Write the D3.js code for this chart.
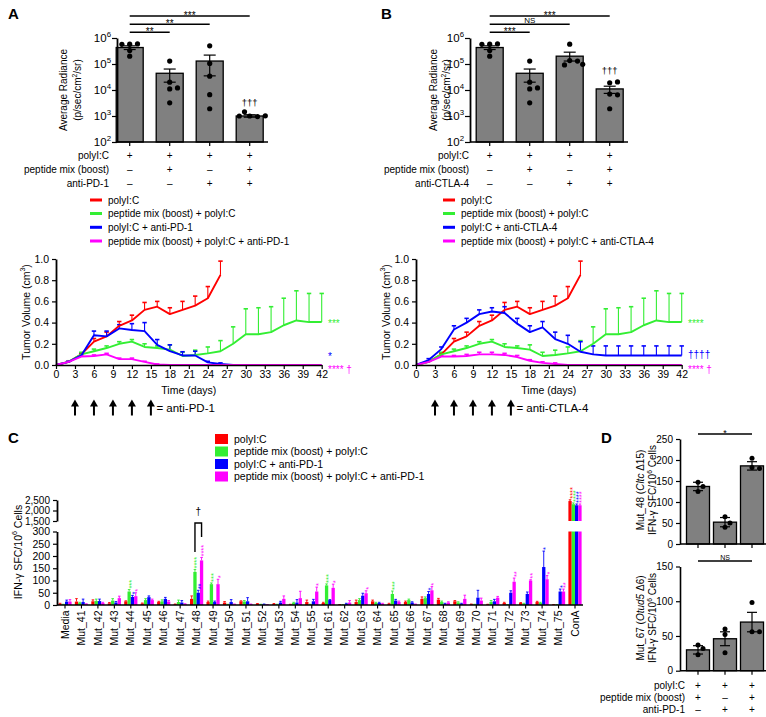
<!DOCTYPE html>
<html><head><meta charset="utf-8">
<script src="https://cdn.jsdelivr.net/npm/d3@7"></script>
<style>
html,body{margin:0;padding:0;background:#fff;}
svg text{font-family:"Liberation Sans",Arial,Helvetica,sans-serif;fill:#000;}
</style></head><body>
<svg id="fig" width="766" height="717" viewBox="0 0 766 717"></svg>
<script>
// ================= DATA =================
const COLORS = ["#ff0000","#33ee33","#0000ff","#ff00ff"];

// Panels A/B – bioluminescence (Average Radiance)
const radTicks = [1e2,1e3,1e4,1e5,1e6];
const radMeanA = [4.3e5, 4.4e4, 1.3e5, 1.0e3];
const radLowA  = [3.6e5, 2.0e4, 3.5e4, 0.9e3];
const radHighA = [5.0e5, 6.4e4, 2.2e5, 1.12e3];
const radPtsA  = [[5.8e5,5.9e5,5.7e5,2.0e5,3.3e5],[1.3e5,2.0e4,1.1e4,1.2e4,3.2e3],[5.0e5,1.05e5,3.4e4,6.6e3,1.9e3],[1.0e3,0.95e3,1.45e3,1.0e3,1.02e3]];
const radMeanB = [4.3e5, 4.4e4, 2.0e5, 1.1e4];
const radLowB  = [3.6e5, 2.0e4, 1.3e5, 7.4e3];
const radHighB = [5.0e5, 6.4e4, 2.85e5, 1.4e4];
const radPtsB  = [[5.8e5,5.9e5,5.7e5,2.0e5,3.3e5],[1.3e5,2.0e4,1.1e4,1.2e4,3.2e3],[5.8e5,1.35e5,1.3e5,9.2e4,9.7e4],[1.9e4,2.05e4,7.0e3,6.5e3,1.9e3]];
const sigLabelsA = ["**","**","***"];
const sigLabelsB = ["***","NS","***"];
const rowLabelsA = ["polyI:C","peptide mix (boost)","anti-PD-1"];
const rowLabelsB = ["polyI:C","peptide mix (boost)","anti-CTLA-4"];
const rowSignsAB = [["+","+","+","+"],["–","+","–","+"],["–","–","+","+"]];
const legendA = ["polyI:C","peptide mix (boost) + polyI:C","polyI:C + anti-PD-1","peptide mix (boost) + polyI:C + anti-PD-1"];
const legendB = ["polyI:C","peptide mix (boost) + polyI:C","polyI:C + anti-CTLA-4","peptide mix (boost) + polyI:C + anti-CTLA-4"];

// Tumor growth curves
const days = [0,2,4,6,8,10,12,14,16,18,20,22,24,26,28,30,32,34,36,38,40,42];
const volTicksY = [0,0.2,0.4,0.6,0.8,1.0];
const dayTicks = [0,3,6,9,12,15,18,21,24,27,30,33,36,39,42];
const treatDays = [3,6,9,12,15];
const volRedA    = [0,0.03,0.1,0.22,0.27,0.37,0.42,0.52,0.55,0.48,0.52,0.56,0.63,0.85];
const volRedErrA = [0,0.035,0.11,0.25,0.31,0.41,0.47,0.59,0.6,0.54,0.6,0.65,0.74,0.98];
const volGreenA    = [0,0.03,0.1,0.13,0.16,0.2,0.22,0.17,0.16,0.145,0.085,0.094,0.11,0.13,0.2,0.29,0.29,0.31,0.375,0.42,0.405,0.405];
const volGreenErrA = [0,0.04,0.12,0.15,0.18,0.22,0.24,0.2,0.18,0.19,0.12,0.14,0.17,0.23,0.36,0.53,0.54,0.55,0.63,0.7,0.675,0.675];
const volBlueA    = [0,0.03,0.09,0.28,0.27,0.345,0.33,0.32,0.19,0.13,0.09,0.09,0.025,0.01,0];
const volBlueErrA = [0,0.035,0.1,0.32,0.32,0.38,0.39,0.4,0.24,0.19,0.125,0.13,0.035,0.02,0];
const volMagA    = [0,0.03,0.08,0.085,0.1,0.055,0.055,0.03,0.005,0,0,0,0,0,0,0,0,0,0,0,0,0];
const volMagErrA = [0,0.035,0.095,0.095,0.11,0.065,0.065,0.035,0.01,0,0,0,0,0,0,0,0,0,0,0,0,0];
const volRedB    = [0,0.03,0.1,0.22,0.27,0.37,0.42,0.52,0.55,0.48,0.52,0.56,0.63,0.85];
const volRedErrB = [0,0.035,0.11,0.25,0.31,0.41,0.47,0.59,0.6,0.54,0.6,0.65,0.74,0.98];
const volGreenB    = [0,0.03,0.1,0.13,0.16,0.2,0.22,0.17,0.16,0.145,0.085,0.094,0.11,0.13,0.2,0.29,0.29,0.31,0.375,0.42,0.405,0.405];
const volGreenErrB = [0,0.04,0.12,0.15,0.18,0.22,0.24,0.2,0.18,0.19,0.12,0.14,0.17,0.23,0.36,0.53,0.54,0.55,0.63,0.7,0.675,0.675];
const volBlueB    = [0,0.047,0.15,0.335,0.4,0.48,0.505,0.49,0.39,0.31,0.355,0.245,0.2,0.125,0.1,0.09,0.09,0.09,0.09,0.09,0.09,0.09];
const volBlueErrB = [0,0.06,0.17,0.37,0.44,0.52,0.54,0.55,0.44,0.37,0.41,0.31,0.28,0.22,0.18,0.18,0.18,0.18,0.18,0.18,0.18,0.18];
const volMagB    = [0,0.03,0.08,0.08,0.085,0.1,0.1,0.095,0.075,0.04,0.02,0.01,0,0,0,0,0,0,0,0,0,0];
const volMagErrB = [0,0.035,0.09,0.09,0.1,0.12,0.12,0.11,0.09,0.05,0.03,0.02,0,0,0,0,0,0,0,0,0,0];

// Panel C – ELISpot
const cCats = ["Media","Mut_41","Mut_42","Mut_43","Mut_44","Mut_45","Mut_46","Mut_47","Mut_48","Mut_49","Mut_50","Mut_51","Mut_52","Mut_53","Mut_54","Mut_55","Mut_61","Mut_62","Mut_63","Mut_64","Mut_65","Mut_66","Mut_67","Mut_68","Mut_69","Mut_70","Mut_71","Mut_72","Mut_73","Mut_74","Mut_75","ConA"];
const cRed     = [5,14,15,7,15,6,12,3,25,12,10,15,5,4,2,12,8,1,12,15,5,12,25,22,15,3,2,8,8,12,1,2450];
const cGreen   = [2,8,16,18,55,20,15,12,135,85,2,14,2,2,8,2,80,1,20,8,45,20,28,12,10,2,12,1,5,8,1,2300];
const cBlue    = [14,12,16,10,33,32,25,10,50,12,12,15,3,10,10,15,20,5,38,8,18,10,45,5,5,30,15,50,45,155,55,2250];
const cMagenta = [14,3,8,28,36,20,14,3,182,85,3,3,1,25,28,55,70,10,48,5,12,3,60,10,25,18,30,95,100,105,55,2250];
const cRedErr   = [2,12,6,3,2,2,3,1,12,4,4,2,1,2,1,8,3,1,8,5,2,4,8,5,3,1,1,3,2,3,1,60];
const cGreenErr = [1,3,8,8,8,6,6,8,10,5,1,4,1,1,3,1,6,1,6,3,12,4,5,4,3,1,6,1,2,3,1,60];
const cBlueErr  = [6,12,8,4,6,5,6,8,10,4,10,15,1,5,12,8,2,2,10,3,5,3,10,2,2,30,8,8,8,65,10,60];
const cMagErr   = [8,2,3,8,14,4,4,2,12,20,1,1,1,12,28,18,15,8,10,2,4,1,15,3,15,10,5,15,3,15,10,60];
const cStars = [["Mut_44",1,3],["Mut_44",2,1],["Mut_44",3,1],["Mut_48",1,4],["Mut_48",2,2],["Mut_48",3,4],
  ["Mut_49",1,3],["Mut_49",3,1],["Mut_55",3,1],["Mut_61",1,3],["Mut_61",3,1],["Mut_63",3,1],["Mut_65",1,3],
  ["Mut_67",2,1],["Mut_67",3,1],["Mut_72",3,2],["Mut_73",3,2],["Mut_74",2,1],["Mut_74",3,1],["Mut_75",2,1],["Mut_75",3,2],
  ["ConA",0,4],["ConA",1,4],["ConA",2,4],["ConA",3,4]];
const cTicksLow = [0,50,100,150,200,250,300];
const cTicksHigh = [1500,2000,2500];
const legendC = ["polyI:C","peptide mix (boost) + polyI:C","polyI:C + anti-PD-1","peptide mix (boost) + polyI:C + anti-PD-1"];

// Panel D
const dRowLabels = ["polyI:C","peptide mix (boost)","anti-PD-1"];
const dRowSigns = [["+","+","+"],["+","–","+"],["–","+","+"]];
const d48Mean = [137,52,186], d48Err = [10,11,10], d48Pts = [[147,137,125],[65,40,50],[204,182,180]];
const d67Mean = [30,46,70],  d67Err = [6,10,14],  d67Pts = [[37,32,23],[60,26,52],[98,56,56]];
const d48Ticks = [0,50,100,150,200,250];
const d67Ticks = [0,50,100,150];

// ================= DRAWING =================
const svg = d3.select("#fig");

function rich(sel, parts, fs){
  let shift = 0;
  parts.forEach(p => {
    const s = typeof p === "string" ? p : p[0];
    const kind = typeof p === "string" ? "n" : p[1];
    const t = sel.append("tspan").text(s);
    let target = 0;
    if (kind === "sup"){ t.attr("font-size", fs*0.68); target = -fs*0.4; }
    if (kind === "it") t.attr("font-style","italic");
    if (target - shift !== 0) t.attr("dy", target - shift);
    shift = target;
  });
}
function txt(g, x, y, s, o={}){
  const fs = o.fs || 10;
  const t = g.append("text").attr("x",x).attr("y",y).attr("font-size",fs)
    .attr("text-anchor",o.anchor||"start");
  if (o.fill) t.attr("fill",o.fill).style("fill",o.fill);
  if (o.weight) t.attr("font-weight",o.weight);
  if (o.dy) t.attr("dy",o.dy);
  if (o.rot) t.attr("transform",`rotate(${o.rot},${x},${y})`);
  if (Array.isArray(s)) rich(t, s, fs); else t.text(s);
  return t;
}
function line(g,x1,y1,x2,y2,col="#000",w=1){
  return g.append("line").attr("x1",x1).attr("y1",y1).attr("x2",x2).attr("y2",y2).attr("stroke",col).attr("stroke-width",w);
}
function styleAxis(a, fs){
  a.select(".domain").attr("stroke","#000").attr("stroke-width",1.4);
  a.selectAll(".tick line").attr("stroke","#000").attr("stroke-width",1.2);
  a.selectAll(".tick text").attr("font-size",fs).style("fill","#000");
}
function dodge(ys, r){
  const placed = [];
  return ys.map(yy => {
    let off = 0;
    for (let k=0;k<40;k++){
      const c = k===0 ? 0 : (k%2 ? 1 : -1)*Math.ceil(k/2)*r;
      if (placed.every(p => Math.hypot(p[0]-c, p[1]-yy) >= 2*r+0.4)){ off = c; break; }
    }
    placed.push([off,yy]);
    return off;
  });
}

// ---------- A / B radiance bars ----------
function radiance(o){
  const g = svg.append("g");
  const y = d3.scaleLog().domain([1e2,1e6]).range([142,38]);
  const x = d3.scalePoint().domain(d3.range(o.mean.length)).range([o.c0, o.c0+120]);
  const bw = 27;
  g.selectAll("rect.bar").data(o.mean).join("rect").attr("class","bar")
    .attr("x",(d,i)=>x(i)-bw/2).attr("y",d=>y(d)).attr("width",bw).attr("height",d=>y(1e2)-y(d))
    .attr("fill","#808080").attr("stroke","#000").attr("stroke-width",1.3);
  o.mean.forEach((m,i)=>{
    const cx = x(i);
    line(g,cx,y(o.low[i]),cx,y(o.high[i]),"#000",1.2);
    line(g,cx-6,y(o.high[i]),cx+6,y(o.high[i]),"#000",1.2);
    line(g,cx-6,y(o.low[i]),cx+6,y(o.low[i]),"#000",1.2);
  });
  o.pts.forEach((arr,i)=>{
    const ys = arr.map(v=>y(v));
    const offs = dodge(ys, 2.6);
    arr.forEach((v,j)=> g.append("circle").attr("cx",x(i)+offs[j]).attr("cy",ys[j]).attr("r",2.6).attr("fill","#000"));
  });
  const ay = g.append("g").attr("transform",`translate(${o.ax},0)`)
    .call(d3.axisLeft(y).tickValues(radTicks).tickSize(5).tickSizeOuter(0).tickFormat(""));
  styleAxis(ay, 11);
  ay.select(".domain").attr("stroke-width",1.8);
  radTicks.forEach(t => txt(g, o.ax-6, y(t)+4, [["10","n"],[String(Math.round(Math.log10(t))),"sup"]], {fs:11.5, anchor:"end"}));
  line(g,o.ax,y(1e2),o.axEnd,y(1e2),"#000",1.5);
  o.mean.forEach((m,i)=> line(g,x(i),y(1e2),x(i),y(1e2)+4,"#000",1.2));
  const sigY = [32.3,24.3,16];
  o.sig.forEach((s,k)=>{
    line(g,x(0),sigY[k],x(k+1),sigY[k],"#000",1.4);
    const mid = (x(0)+x(k+1))/2;
    if (s === "NS") txt(g, mid, sigY[k]-1.5, s, {fs:8, anchor:"middle"});
    else txt(g, mid, sigY[k]+2.5, s, {fs:10, anchor:"middle"});
  });
  txt(g, x(3), o.dagY, "†††", {fs:9.5, anchor:"middle"});
  txt(g, o.ylabX[0], 90, "Average Radiance", {fs:10, anchor:"middle", rot:-90, dy:"0.35em"});
  txt(g, o.ylabX[1], 90, ["(p/sec/cm",["2","sup"],"/sr)"], {fs:10, anchor:"middle", rot:-90, dy:"0.35em"});
  const rowY = [155,169.5,183.3];
  o.rows.forEach((lab,r)=>{
    txt(g, o.rowX, rowY[r], lab, {fs:10, anchor:"end", dy:"0.35em"});
    rowSignsAB[r].forEach((s,i)=> txt(g, x(i), rowY[r], s, {fs:10, anchor:"middle", dy:"0.35em"}));
  });
  const legY = [200,213.5,227.3,241];
  o.legend.forEach((lab,k)=>{
    line(g,o.legX,legY[k],o.legX+12,legY[k],COLORS[k],3);
    txt(g,o.legX+18,legY[k],lab,{fs:10,dy:"0.35em"});
  });
  txt(g, o.lblX, 19, o.letter, {fs:15, weight:"bold"});
}

radiance({mean:radMeanA, low:radLowA, high:radHighA, pts:radPtsA, sig:sigLabelsA, rows:rowLabelsA, legend:legendA,
  ax:117, axEnd:268, c0:129.7, rowX:109, legX:90, ylabX:[63.5,77.5], lblX:8, letter:"A", dagY:106});
radiance({mean:radMeanB, low:radLowB, high:radHighB, pts:radPtsB, sig:sigLabelsB, rows:rowLabelsB, legend:legendB,
  ax:470, axEnd:628, c0:489.7, rowX:469, legX:443, ylabX:[433,446], lblX:381, letter:"B", dagY:74});

// ---------- A / B tumor growth ----------
function growth(o){
  const g = svg.append("g");
  const x = d3.scaleLinear().domain([0,42]).range([o.ax, o.ax+265.7]);
  const y = d3.scaleLinear().domain([0,1]).range([365,259]);
  o.series.forEach((s,si)=>{
    const col = COLORS[si];
    s.mean.forEach((m,i)=>{
      if (s.err[i] > m + 0.004){
        line(g,x(days[i]),y(m),x(days[i]),y(s.err[i]),col,1.1);
        line(g,x(days[i])-2.2,y(s.err[i]),x(days[i])+2.2,y(s.err[i]),col,1.6);
      }
    });
  });
  o.series.forEach((s,si)=>{
    g.append("path").datum(s.mean)
      .attr("d", d3.line().x((d,i)=>x(days[i])).y(d=>y(d)))
      .attr("fill","none").attr("stroke",COLORS[si]).attr("stroke-width",1.9).attr("stroke-linejoin","round");
  });
  const ax = g.append("g").attr("transform","translate(0,365)")
    .call(d3.axisBottom(x).tickValues(dayTicks).tickSize(4).tickSizeOuter(0).tickFormat(d3.format("d")));
  styleAxis(ax, 10.5);
  ax.selectAll(".tick text").attr("dy","0.6em");
  const ay = g.append("g").attr("transform",`translate(${o.ax},0)`)
    .call(d3.axisLeft(y).tickValues(volTicksY).tickSize(4).tickSizeOuter(0).tickFormat(d3.format(".1f")));
  styleAxis(ay, 10.5);
  ay.select(".domain").attr("stroke-width",1.8);
  txt(g, o.ax-30, 312, ["Tumor Volume (cm",["3","sup"],")"], {fs:10.5, anchor:"middle", rot:-90, dy:"0.35em"});
  txt(g, (x(0)+x(42))/2, 390, "Time (days)", {fs:10.5, anchor:"middle", dy:"0.35em"});
  o.ann.forEach(a => txt(g, o.annX, y(a.v)+a.dy, a.t, {fs:a.fs||10, fill:COLORS[a.c]}));
  treatDays.forEach(d=>{
    const cx = x(d);
    line(g,cx,405,cx,415.5,"#000",2);
    g.append("path").attr("d",`M${cx-4},${406.5}L${cx},${399.5}L${cx+4},${406.5}Z`).attr("fill","#000");
  });
  txt(g, x(15)+5.5, 408, o.arrowLabel, {fs:11.5, dy:"0.35em"});
}
growth({ax:56, annX:328, arrowLabel:"= anti-PD-1",
  series:[{mean:volRedA,err:volRedErrA},{mean:volGreenA,err:volGreenErrA},{mean:volBlueA,err:volBlueErrA},{mean:volMagA,err:volMagErrA}],
  ann:[{v:0.41,dy:5.5,t:"***",c:1},{v:0.06,dy:1.4,t:"*",c:2},{v:0,dy:7.5,t:"**** †",c:3}]});
growth({ax:416, annX:688, arrowLabel:"= anti-CTLA-4",
  series:[{mean:volRedB,err:volRedErrB},{mean:volGreenB,err:volGreenErrB},{mean:volBlueB,err:volBlueErrB},{mean:volMagB,err:volMagErrB}],
  ann:[{v:0.41,dy:5.5,t:"****",c:1},{v:0.09,dy:3,t:"††††",c:2},{v:0,dy:7.5,t:"**** †",c:3}]});

// ---------- C ----------
(function(){
  const g = svg.append("g");
  const x = d3.scalePoint().domain(cCats).range([65,575]);
  const yLo = d3.scaleLinear().domain([0,300]).range([605,531.5]);
  const yHi = d3.scaleLinear().domain([1500,2500]).range([521,500]);
  const yv = v => v <= 300 ? yLo(v) : yHi(v);
  const bw = 3.3;
  const series = [cRed,cGreen,cBlue,cMagenta];
  const errs = [cRedErr,cGreenErr,cBlueErr,cMagErr];
  const bx = (c,si) => x(c) + (si-1.5)*bw;
  series.forEach((vals,si)=>{
    vals.forEach((v,ci)=>{
      const cx = bx(cCats[ci],si);
      if (v <= 300){
        g.append("rect").attr("x",cx-bw/2).attr("y",yLo(v)).attr("width",bw).attr("height",yLo(0)-yLo(v)).attr("fill",COLORS[si]);
      } else {
        g.append("rect").attr("x",cx-bw/2).attr("y",yLo(300)).attr("width",bw).attr("height",yLo(0)-yLo(300)).attr("fill",COLORS[si]);
        g.append("rect").attr("x",cx-bw/2).attr("y",yHi(v)).attr("width",bw).attr("height",yHi(1500)-yHi(v)).attr("fill",COLORS[si]);
      }
      const top = v + errs[si][ci];
      line(g,cx,yv(v),cx,yv(top),COLORS[si],0.9);
      line(g,cx-1.3,yv(top),cx+1.3,yv(top),COLORS[si],0.9);
    });
  });
  cStars.forEach(([c,si,n])=>{
    const ci = cCats.indexOf(c);
    const top = yv(series[si][ci] + errs[si][ci]) - 1;
    txt(g, bx(c,si), top, "*".repeat(n), {fs:7.5, anchor:"start", rot:-90, dy:"0.6em", fill:COLORS[si]});
  });
  const bl = bx("Mut_48",1), br = bx("Mut_48",3);
  g.append("path").attr("d",`M${bl},552V523H${br}V537`).attr("fill","none").attr("stroke","#000").attr("stroke-width",1.4);
  txt(g,(bl+br)/2,515,"†",{fs:10,anchor:"middle"});
  const aLo = g.append("g").attr("transform","translate(57,0)")
    .call(d3.axisLeft(yLo).tickValues(cTicksLow).tickSize(4).tickSizeOuter(0));
  styleAxis(aLo, 10.5);
  const aHi = g.append("g").attr("transform","translate(57,0)")
    .call(d3.axisLeft(yHi).tickValues(cTicksHigh).tickSize(4).tickSizeOuter(0));
  styleAxis(aHi, 10);
  aHi.selectAll(".tick text").attr("dy","0.3em");
  aLo.select(".domain").attr("stroke-width",1.8);
  aHi.select(".domain").attr("stroke-width",1.8);
  line(g,57,605,583,605,"#000",1.6);
  cCats.forEach(c=>{
    line(g,x(c),605,x(c),608.5,"#000",1.1);
    txt(g,x(c),610.5,c,{fs:10.5,anchor:"end",rot:-90,dy:"0.35em"});
  });
  txt(g,18,552,["IFN-γ SFC/10",["6","sup"]," Cells"],{fs:10.5,anchor:"middle",rot:-90,dy:"0.35em"});
  const lgY = [439,451.5,464,476.5];
  legendC.forEach((lab,k)=>{
    g.append("rect").attr("x",215).attr("y",lgY[k]-5).attr("width",13).attr("height",10).attr("fill",COLORS[k]);
    txt(g,234,lgY[k],lab,{fs:10.5,dy:"0.35em"});
  });
  txt(g,8,443,"C",{fs:15,weight:"bold"});
})();

// ---------- D ----------
function panelD(o){
  const g = svg.append("g");
  const y = d3.scaleLinear().domain([0,o.max]).range([o.y0,o.y1]);
  const x = d3.scalePoint().domain(d3.range(3)).range([698,752]);
  const bw = 23;
  g.selectAll("rect").data(o.mean).join("rect")
    .attr("x",(d,i)=>x(i)-bw/2).attr("y",d=>y(d)).attr("width",bw).attr("height",d=>y(0)-y(d))
    .attr("fill","#808080").attr("stroke","#000").attr("stroke-width",1.3);
  o.mean.forEach((m,i)=>{
    const cx = x(i);
    line(g,cx,y(m-o.err[i]),cx,y(m+o.err[i]),"#000",1.2);
    line(g,cx-5,y(m+o.err[i]),cx+5,y(m+o.err[i]),"#000",1.2);
    line(g,cx-5,y(m-o.err[i]),cx+5,y(m-o.err[i]),"#000",1.2);
  });
  o.pts.forEach((arr,i)=>{
    const ys = arr.map(v=>y(v));
    const offs = dodge(ys,2.5);
    arr.forEach((v,j)=> g.append("circle").attr("cx",x(i)+offs[j]).attr("cy",ys[j]).attr("r",2.5).attr("fill","#000"));
  });
  const ay = g.append("g").attr("transform","translate(680,0)")
    .call(d3.axisLeft(y).tickValues(o.ticks).tickSize(4).tickSizeOuter(0));
  styleAxis(ay, 10);
  ay.select(".domain").attr("stroke-width",1.6);
  line(g,680,y(0),766,y(0),"#000",1.5);
  d3.range(3).forEach(i=> line(g,x(i),y(0),x(i),y(0)+4,"#000",1.2));
  line(g,x(0),o.sigY,x(2),o.sigY,"#000",1.3);
  if (o.sig === "NS") txt(g,x(1),o.sigY-1.5,"NS",{fs:7,anchor:"middle"});
  else txt(g,x(1),o.sigY+1.5,o.sig,{fs:9,anchor:"middle"});
  txt(g,640,o.labY,o.lab1,{fs:10,anchor:"middle",rot:-90,dy:"0.35em"});
  txt(g,652.5,o.labY,["IFN-γ SFC/10",["6","sup"]," Cells"],{fs:10,anchor:"middle",rot:-90,dy:"0.35em"});
  return x;
}
panelD({mean:d48Mean, err:d48Err, pts:d48Pts, max:250, y0:544, y1:439, ticks:d48Ticks, sigY:434, sig:"*",
  labY:490, lab1:["Mut_48 (",["Cltc","it"]," Δ15)"]});
const xD = panelD({mean:d67Mean, err:d67Err, pts:d67Pts, max:150, y0:670.7, y1:566.5, ticks:d67Ticks, sigY:561, sig:"NS",
  labY:618, lab1:["Mut_67 (",["Otud5","it"]," Δ6)"]});
(function(){
  const g = svg.append("g");
  const rowY = [685.5,697.5,709.5];
  dRowLabels.forEach((lab,r)=>{
    txt(g,685,rowY[r],lab,{fs:10,anchor:"end",dy:"0.35em"});
    dRowSigns[r].forEach((s,i)=> txt(g,xD(i),rowY[r],s,{fs:10,anchor:"middle",dy:"0.35em"}));
  });
  txt(g,601,443,"D",{fs:15,weight:"bold"});
})();
</script></body></html>
